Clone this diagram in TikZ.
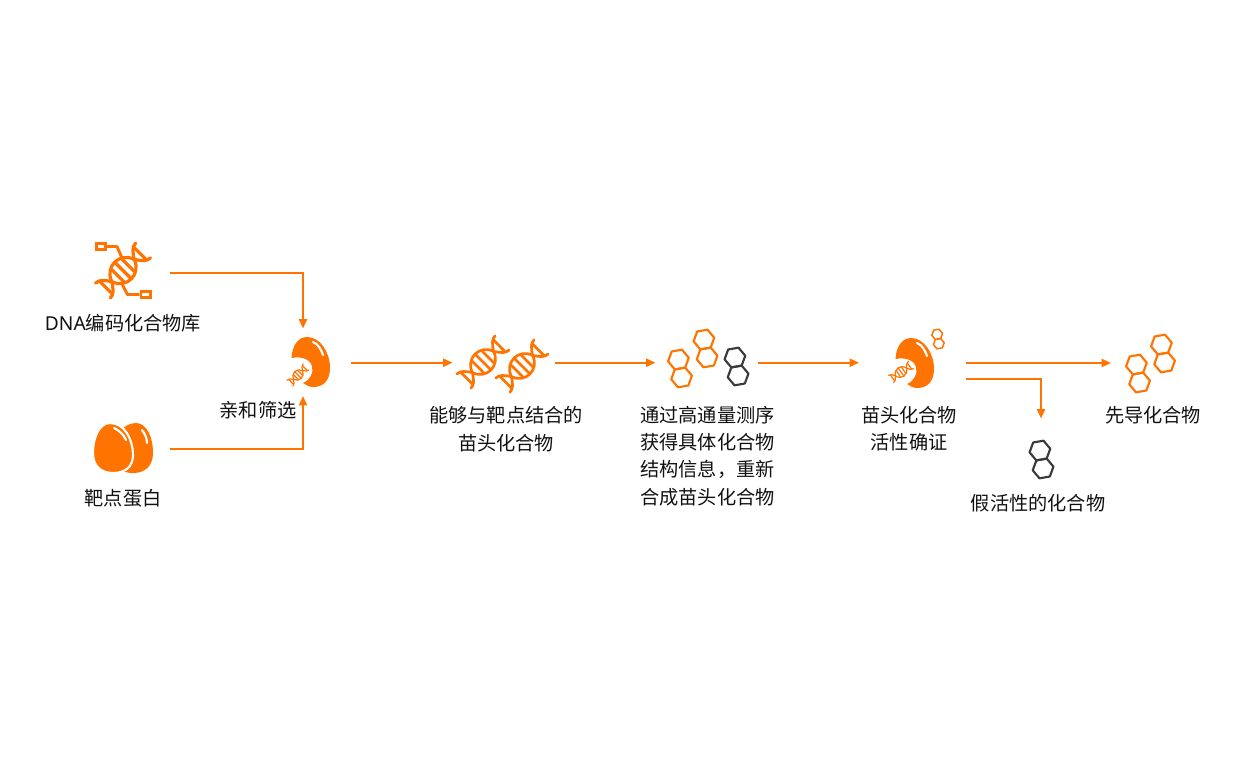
\documentclass[tikz,border=0pt]{standalone}
\usepackage{fontspec}
\setmainfont{Noto Sans CJK SC}
\newfontfamily\latinf{Noto Sans}
\usetikzlibrary{arrows.meta}
\definecolor{brand}{HTML}{FF7300}
\definecolor{ink}{HTML}{111111}
\definecolor{hexdark}{HTML}{3A3A3A}
\tikzset{
  x=0.75pt,y=-0.75pt,
  flow/.style={draw=brand,line width=1.5pt,-{Triangle[length=7pt,width=6pt]}},
  lbl/.style={text=ink,align=center,inner sep=0pt,font=\fontsize{14.4}{20.5}\selectfont},
  iconbox/.style={inner sep=0pt,minimum width=#1,minimum height=#1},
  iconbox/.default=10pt,
  pics/hexpair/.style={code={
    \begin{scope}[line join=round,fill=none]
    \draw[pic actions,shift={(0,-9.1)}] (0:10.5)--(60:10.5)--(120:10.5)--(180:10.5)--(240:10.5)--(300:10.5)--cycle;
    \draw[pic actions,shift={(0,9.1)}] (0:10.5)--(60:10.5)--(120:10.5)--(180:10.5)--(240:10.5)--(300:10.5)--cycle;
    \end{scope}
  }},
  pics/helix/.style={code={
    \begin{scope}[line cap=round,line join=round,fill=none]
    \draw[pic actions] (-27,-10) .. controls (-22,-10) and (-19,-6) .. (-15,0)
       .. controls (-10,15) and (10,15) .. (15,0)
       .. controls (19,-6) and (22,-10) .. (27,-10);
    \draw[pic actions] (-27,10) .. controls (-22,10) and (-19,6) .. (-15,0)
       .. controls (-10,-15) and (10,-15) .. (15,0)
       .. controls (19,6) and (22,10) .. (27,10);
    \foreach \u/\h in {-7/8,0/11,7/8}{
      \draw[pic actions] (\u,-\h) -- (\u,\h);
    }
    \foreach \u/\h in {-23/8,23/8}{
      \draw[pic actions] (\u,-\h) -- (\u,\h);
    }
    \end{scope}
  }},
  pics/bitegg/.style={code={
    \fill[brand] (-18.5,-4) .. controls (-18,-16) and (-12,-25) .. (-3,-25)
      .. controls (10,-25) and (20,-10) .. (20,6)
      .. controls (20,19) and (13,25) .. (3,25)
      .. controls (-1,25) and (-4,23) .. (-7,21)
      .. controls (0,18) and (4,11) .. (2,4)
      .. controls (0,-3) and (-9,-6) .. (-18.5,-4) -- cycle;
    \draw[white,line width=1.6pt,line cap=round] (3,-20) .. controls (8,-18) and (11,-13) .. (13,-7);
  }},
  pics/fullegg/.style={code={
    \fill[pic actions] (-3,-25) .. controls (12,-25) and (20,-8) .. (20,7)
      .. controls (20,19) and (12,25) .. (0,25)
      .. controls (-12,25) and (-20,18) .. (-20,5)
      .. controls (-20,-12) and (-13,-25) .. (-3,-25) -- cycle;
  }}
}
\begin{document}
\begin{tikzpicture}
\useasboundingbox (0,0) rectangle (1247,779);

% --- DNA library icon
\node[iconbox=70.5pt] (lib) at (123,272.7) {};
\pic[draw=brand,line width=2.4pt,rotate=45,scale=1.05] at (123,270.5) {helix};
\node[draw=brand,line width=2.2pt,inner sep=0pt,minimum width=6.8pt,minimum height=4.5pt] (boxa) at (101,246.5) {};
\node[draw=brand,line width=2.2pt,inner sep=0pt,minimum width=6.8pt,minimum height=4.5pt] (boxb) at (145.5,294.5) {};
\coordinate (wirea) at (122,258);
\coordinate (wireb) at (122,284);
\draw[brand,line width=2.2pt,line join=round] (boxa.east) -- ++(10,0) -- (wirea);
\draw[brand,line width=2.2pt,line join=round] (boxb.west) -- ++(-12,0) -- (wireb);

% --- target protein icon
\node[iconbox=70.5pt] (prot) at (123,449) {};
\pic[fill=brand,xscale=-1] at (133,448) {fullegg};
\pic[fill=brand,draw=white,line width=1.6pt] at (113,448) {fullegg};
\draw[white,line width=1.6pt,line cap=round] (114,428) .. controls (120,431) and (124,435) .. (126,440);
\draw[white,line width=1.6pt,line cap=round] (142,430) .. controls (145,434) and (147,438) .. (147,443);

% --- binding screen icon
\node[iconbox=30pt] (egga) at (310,362) {};
\pic at (310,362) {bitegg};
\pic[draw=brand,line width=0.9pt,rotate=45,scale=.42] at (298,375) {helix};

% --- hit DNA icon
\node[iconbox=72pt] (dnas) at (503,362.7) {};
\pic[draw=brand,line width=2pt,rotate=45] at (483,362) {helix};
\pic[draw=brand,line width=2pt,rotate=45] at (522,366) {helix};

% --- three hexagon pairs
\node[iconbox=69pt] (hexes) at (706,362.7) {};
\pic[draw=brand,line width=1.6pt,rotate=10] at (680,368.5) {hexpair};
\pic[draw=brand,line width=1.6pt,rotate=10] at (705.5,348.5) {hexpair};
\pic[draw=hexdark,line width=1.6pt,rotate=10] at (736.5,366.5) {hexpair};

% --- hit confirmation icon
\node[iconbox=30pt] (eggb) at (914,362) {};
\pic at (914,363) {bitegg};
\pic[draw=brand,line width=0.9pt,rotate=35,scale=.45] at (901,372) {helix};
\pic[draw=brand,line width=1.1pt,rotate=10,scale=.52] at (938,339) {hexpair};

% --- lead and false icons
\node[iconbox=36pt] (lead) at (1151,362) {};
\pic[draw=brand,line width=1.6pt,rotate=10] at (1138,373.5) {hexpair};
\pic[draw=brand,line width=1.6pt,rotate=10] at (1163,353.5) {hexpair};
\node[iconbox=24pt] (fake) at (1041,459) {};
\pic[draw=hexdark,line width=1.6pt,rotate=10] at (1041.5,459.5) {hexpair};

% --- labels
\node[lbl] (tlib) at (123,323) {{\latinf DNA}编码化合物库};
\node[lbl] (tprot) at (123,498) {靶点蛋白};
\node[lbl] (tscreen) at (258,410) {亲和筛选};
\node[lbl] (thit) at (506,429) {能够与靶点结合的\\苗头化合物};
\node[lbl] (tseq) at (707.5,456) {通过高通量测序\\获得具体化合物\\结构信息，重新\\合成苗头化合物};
\node[lbl] (tconf) at (909,429) {苗头化合物\\活性确证};
\node[lbl] (tfake) at (1038,503) {假活性的化合物};
\node[lbl] (tlead) at (1153,415) {先导化合物};

% --- connector end points
\coordinate (inA) at (303,328.5);
\coordinate (inB) at (303,396);
\coordinate (outE) at (351,362.7);
\coordinate (inD) at (452.5,362.7);
\coordinate (outD) at (555,362.7);
\coordinate (inH) at (655.5,362.7);
\coordinate (outH) at (758,362.7);
\coordinate (inC) at (859,362.7);
\coordinate (outC) at (966,363);
\coordinate (outF) at (966,379);
\coordinate (inL) at (1111,363);
\coordinate (inF) at (1041,418.5);

\draw[flow] (lib.east) -| (inA);
\draw[flow] (prot.east) -| (inB);
\draw[flow] (outE) -- (inD);
\draw[flow] (outD) -- (inH);
\draw[flow] (outH) -- (inC);
\draw[flow] (outC) -- (inL);
\draw[flow] (outF) -| (inF);
\end{tikzpicture}
\end{document}
